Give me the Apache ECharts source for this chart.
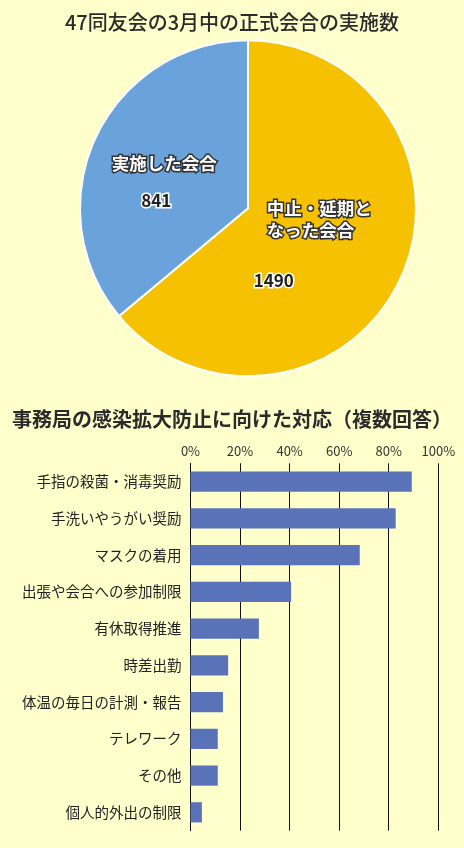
<!DOCTYPE html>
<html lang="ja" style="height: 100%">
<head>
    <meta charset="UTF-8">
    <title>同友会 会合と感染対策</title>
</head>
<body style="height: 100%; margin: 0; background: #ffffcc">
<div id="container" style="width: 464px; height: 848px"></div>
<script type="text/javascript" src="https://cdn.jsdelivr.net/npm/echarts@6/dist/echarts.min.js"></script>
<script type="text/javascript">

    // 円グラフ：会合の実施数
    var meetingNames = ['中止・延期と\nなった会合', '実施した会合'];
    var meetingCounts = [1490, 841];
    var meetingColors = ['#f6c100', '#6aa3db'];

    // 棒グラフ：感染拡大防止の対応（%）
    var measureNames = ['手指の殺菌・消毒奨励', '手洗いやうがい奨励', 'マスクの着用', '出張や会合への参加制限',
        '有休取得推進', '時差出勤', '体温の毎日の計測・報告', 'テレワーク', 'その他', '個人的外出の制限'];
    var measureRates = [89.3, 82.8, 68.3, 40.6, 27.6, 15.2, 13.1, 11.0, 11.0, 4.6];
    var rateTicks = [0, 20, 40, 60, 80, 100];

    var font = '"Noto Sans CJK JP", "Noto Sans", sans-serif';

    // ラベルの位置調整（insideの位置からのずれ）
    var nameShift = [[-60, -26], [-5, -8]];
    var valueShift = [[-53, 35], [-13, 29]];

    window.onload = function () {
        var dom = document.getElementById('container');
        var myChart = echarts.init(dom, null, {renderer: 'canvas'});

        var pieData = [];
        for (var i = 0; i < meetingCounts.length; i++) {
            pieData.push({name: meetingNames[i], value: meetingCounts[i], itemStyle: {color: meetingColors[i]}});
        }

        var option = {
            backgroundColor: '#ffffcc',
            textStyle: {fontFamily: font},
            title: [{
                text: '47同友会の3月中の正式会合の実施数',
                left: 'center',
                top: 7,
                textStyle: {fontSize: 20, fontWeight: 500, color: '#2b2b2b', fontFamily: font}
            }, {
                text: '事務局の感染拡大防止に向けた対応（複数回答）',
                left: 'center',
                top: 404,
                textStyle: {fontSize: 20, fontWeight: 'bold', color: '#2b2b2b', fontFamily: font}
            }],
            grid: {left: 190.5, right: 25.7, top: 463.3, bottom: 17.3},
            xAxis: {
                type: 'value',
                position: 'top',
                min: rateTicks[0],
                max: rateTicks[rateTicks.length - 1],
                interval: rateTicks[1] - rateTicks[0],
                axisLine: {show: false},
                axisTick: {show: false},
                axisLabel: {formatter: '{value}%', color: '#333', fontSize: 13, margin: 6, fontFamily: font},
                splitLine: {lineStyle: {color: '#111', width: 1}}
            },
            yAxis: {
                type: 'category',
                inverse: true,
                data: measureNames,
                axisLine: {show: true, lineStyle: {color: '#111', width: 1}},
                axisTick: {show: false},
                axisLabel: {color: '#222', fontSize: 14.5, margin: 9, fontFamily: font}
            },
            series: [{
                type: 'pie',
                center: [248, 208.3],
                radius: 168,
                startAngle: 90,
                clockwise: true,
                silent: true,
                itemStyle: {borderColor: '#ffffff', borderWidth: 2},
                label: {
                    position: 'inside',
                    formatter: '{b}',
                    color: '#ffffff',
                    fontSize: 17.5,
                    fontWeight: 'bold',
                    lineHeight: 22,
                    align: 'left',
                    textBorderColor: '#333',
                    textBorderWidth: 3,
                    fontFamily: font
                },
                labelLayout: function (p) {
                    return {dx: nameShift[p.dataIndex][0], dy: nameShift[p.dataIndex][1],
                        align: p.dataIndex === 0 ? 'left' : 'center'};
                },
                data: pieData
            }, {
                type: 'pie',
                center: [248, 208.3],
                radius: 168,
                startAngle: 90,
                clockwise: true,
                silent: true,
                itemStyle: {color: 'transparent', borderWidth: 0},
                label: {
                    position: 'inside',
                    formatter: '{c}',
                    color: '#222',
                    fontSize: 17,
                    fontWeight: 'bold',
                    textBorderColor: '#ffffff',
                    textBorderWidth: 3,
                    fontFamily: font
                },
                labelLayout: function (p) {
                    return {dx: valueShift[p.dataIndex][0], dy: valueShift[p.dataIndex][1]};
                },
                data: meetingCounts.map(function (v, k) { return {name: meetingNames[k], value: v}; })
            }, {
                type: 'bar',
                barWidth: '55%',
                silent: true,
                itemStyle: {color: '#5a73b8'},
                data: measureRates
            }]
        };

        myChart.setOption(option);
    };

</script>
</body>
</html>
